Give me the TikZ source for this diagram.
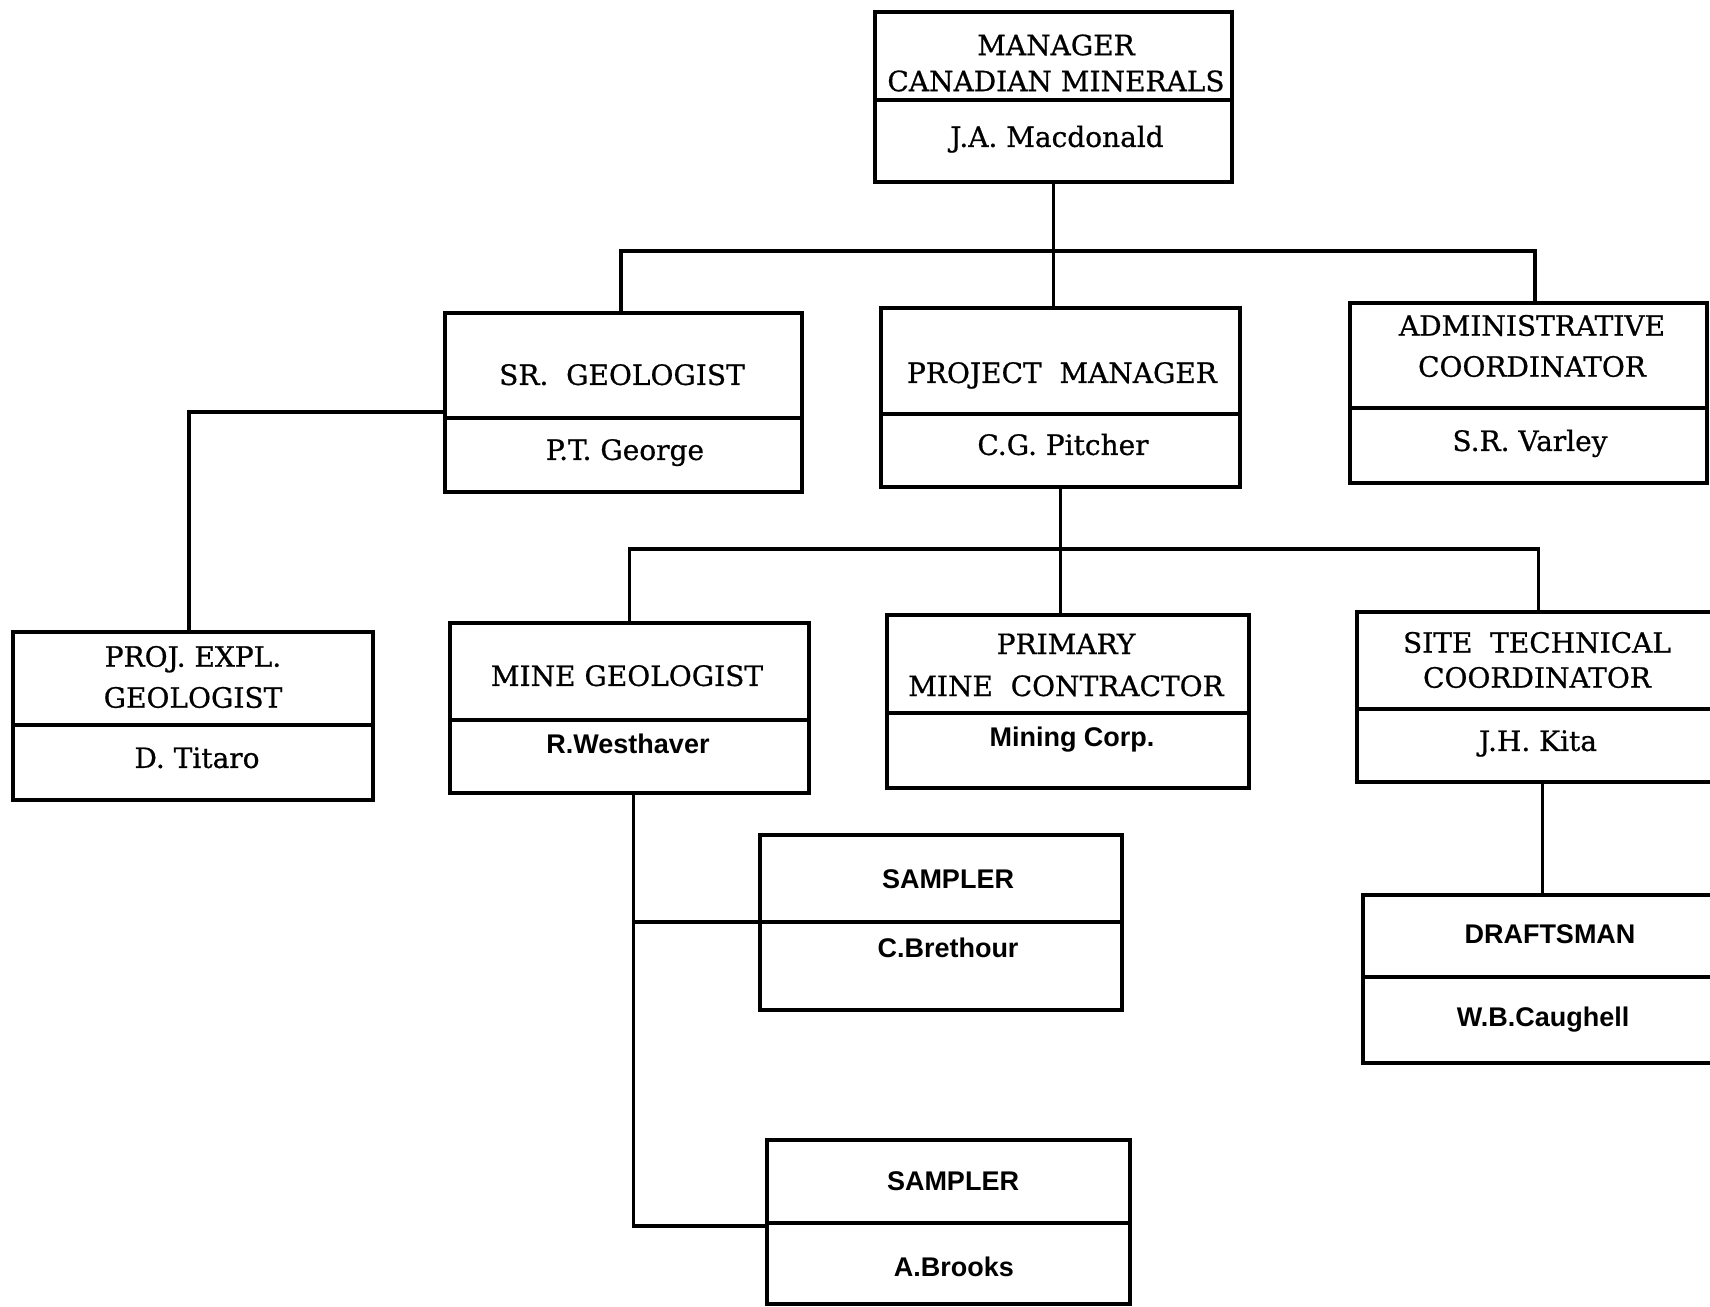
\documentclass[tikz,border=0pt]{standalone}
\usepackage{fontspec}
\setmainfont{DejaVu Serif}[BoldFont=DejaVu Serif, BoldFeatures={FakeBold=0.7}]
\newfontfamily\snf{Liberation Sans}
\newcommand\orgbox[6]{%
  \node[box, minimum width={(#4-#2)*0.5pt}, minimum height={(#5-#3)*0.5pt}] (#1) at ({(#2+#4)/2},{(#3+#5)/2}) {};
  \draw[ln] (#2,#6) -- (#4,#6);}
\begin{document}
\begin{tikzpicture}[x=0.5pt,y=-0.5pt,
  box/.style={draw, line width=1.6pt, rectangle, inner sep=0pt},
  ln/.style={line width=1.6pt},
  ttl/.style={font=\bfseries\fontsize{14}{18}\selectfont, align=center, inner sep=0pt},
  one/.style={font=\bfseries\fontsize{14}{16}\selectfont, inner sep=0pt, text height=9.9pt, text depth=0pt},
  sn/.style={font=\snf\bfseries\fontsize{13.5}{15}\selectfont, inner sep=0pt, text height=9.7pt, text depth=0pt}]
\clip (0,0) rectangle (1710,1307);
\fill[white] (0,0) rectangle (1710,1307);
% boxes
\orgbox{mgr}{875}{12}{1232}{182}{100}
\orgbox{sr}{445}{313}{802}{492}{418}
\orgbox{pm}{881}{308}{1240}{487}{414}
\orgbox{adm}{1350}{303}{1707}{483}{408}
\orgbox{pex}{13}{632}{373}{800}{725}
\orgbox{mg}{450}{623}{809}{793}{720}
\orgbox{pmc}{887}{615}{1249}{788}{713}
\orgbox{stc}{1357}{612}{1720}{782}{709}
\orgbox{sa}{760}{835}{1122}{1010}{922}
\orgbox{sb}{767}{1140}{1130}{1304}{1223}
\orgbox{dr}{1363}{895}{1720}{1063}{977}
% texts
\node[ttl] (tmgr) at (1056,63) {MANAGER\\CANADIAN MINERALS};
\node[one] (tmgrn) at (1057,137) {J.A. Macdonald};
\node[one] (tsr) at (622,375) {SR.\ \ GEOLOGIST};
\node[one] (tsrn) at (625,450) {P.T. George};
\node[one] (tpm) at (1062,373) {PROJECT\ \ MANAGER};
\node[one] (tpmn) at (1063,445) {C.G. Pitcher};
\node[ttl, font=\bfseries\fontsize{14}{20.5}\selectfont] (tadm) at (1532,346) {ADMINISTRATIVE\\COORDINATOR};
\node[one] (tadmn) at (1530,441) {S.R. Varley};
\node[ttl, font=\bfseries\fontsize{14}{20.5}\selectfont] (tpex) at (193,677) {PROJ. EXPL.\\GEOLOGIST};
\node[one] (tpexn) at (197,758) {D. Titaro};
\node[one] (tmg) at (627,676) {MINE GEOLOGIST};
\node[sn] (tmgn) at (628,744) {R.Westhaver};
\node[ttl, font=\bfseries\fontsize{14}{21}\selectfont] (tpmc) at (1066,665) {PRIMARY\\MINE\ \ CONTRACTOR};
\node[sn] (tpmcn) at (1072,737) {Mining Corp.};
\node[ttl, font=\bfseries\fontsize{14}{17.5}\selectfont] (tstc) at (1537,660) {SITE\ \ TECHNICAL\\COORDINATOR};
\node[one] (tstcn) at (1538,741) {J.H. Kita};
\node[sn] (tsa) at (948,879) {SAMPLER};
\node[sn] (tsan) at (948,948) {C.Brethour};
\node[sn] (tsb) at (953,1181) {SAMPLER};
\node[sn] (tsbn) at (954,1267) {A.Brooks};
\node[sn] (tdr) at (1550,934) {DRAFTSMAN};
\node[sn] (tdrn) at (1543,1017) {W.B.Caughell};
% connectors
\coordinate (bus1) at (0,251);
\coordinate (bus2) at (0,549);
\coordinate (ysr) at (0,412);
\coordinate (ysa) at (0,922);
\coordinate (ysb) at (0,1226);
\coordinate (mgs) at ([xshift=2pt]mg.south);
\coordinate (stcs) at ([xshift=2pt]stc.south);
\draw[ln] (mgr.south) -- (mgr.south |- pm.north);
\draw[ln] ([xshift=-1.25pt]sr.north) |- ([xshift=3.25pt]adm.north |- bus1) -- ([xshift=3.25pt]adm.north);
\draw[ln] (sr.west |- ysr) -| ([xshift=-2pt]pex.north);
\draw[ln] (pm.south) -- (pm.south |- pmc.north);
\draw[ln] (mg.north) |- (stc.north |- bus2) -- (stc.north);
\draw[ln] (mgs) |- (sb.west |- ysb);
\draw[ln] (mgs |- ysa) -- (sa.west |- ysa);
\draw[ln] (stcs) -- (stcs |- dr.north);
\end{tikzpicture}
\end{document}
